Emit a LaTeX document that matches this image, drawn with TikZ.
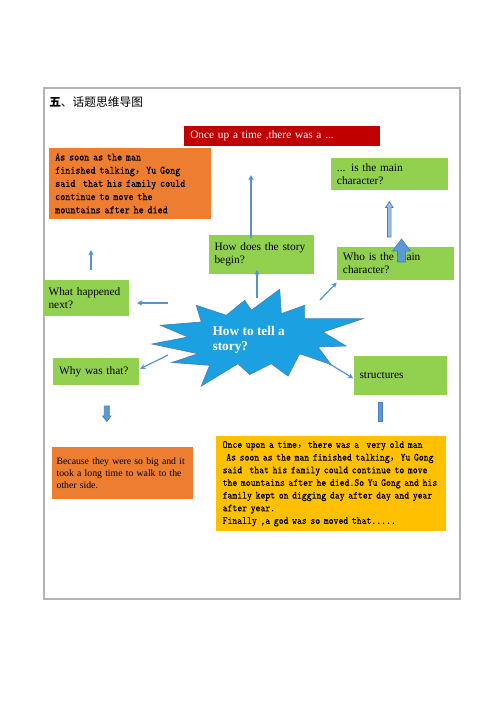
\documentclass[tikz,border=0pt]{standalone}
\usepackage{fontspec}
\setmainfont{Liberation Serif}
\newfontfamily\cjk{Noto Sans CJK SC}
\newfontfamily\monofont{lmmono10-regular.otf}[FakeStretch=0.85, FakeBold=0.2]
\usetikzlibrary{arrows.meta}

\definecolor{mapred}{HTML}{C00000}
\definecolor{maporange}{HTML}{ED7D31}
\definecolor{mapgreen}{HTML}{92D050}
\definecolor{mapyellow}{HTML}{FFC000}
\definecolor{mapblue}{HTML}{5B9BD5}
\definecolor{mapline}{HTML}{4A7EBB}
\definecolor{burstblue}{HTML}{1BA1E2}
\definecolor{framegray}{HTML}{B4B4B4}

\tikzset{
  box/.style={anchor=north west, inner ysep=0pt, align=left, text=black},
  serifbox/.style={box, font=\fontsize{8.5}{10}\selectfont},
  greenbox/.style={serifbox, fill=mapgreen},
  monobox/.style={box, font=\monofont\fontsize{8.5}{9.9}\selectfont},
  arr/.style={draw=mapblue!70!mapline, line width=0.9pt, -{Stealth[length=4pt,width=4pt]}},
  blockarr/.style={fill=mapblue, draw=mapline, line width=0.5pt}
}

\begin{document}
\begin{tikzpicture}[x=0.75pt,y=-0.75pt]
    \useasboundingbox (0,0) rectangle (500,707);
    \draw[framegray, line width=1pt] (44,88) rectangle (460,599);

    \node[anchor=west, inner sep=0pt, font=\cjk\fontsize{8.8}{10}\selectfont] (title) at (49,102) {{\bfseries 五}、话题思维导图};

    % top row
    \node[serifbox, fill=mapred, text=white, inner xsep=4.5pt, text width=138pt, minimum height=14.6pt] (once) at (184,126) {Once up a time ,there was a ...};
    \node[monobox, fill=maporange, inner xsep=5pt, text width=112pt, minimum height=53.8pt] (soon) at (48.3,147.3)
        {As soon as the man\\finished talking{\cjk ，}Yu Gong\\said~~that his family could\\continue to move the\\mountains after he died};
    \node[greenbox, inner xsep=4.5pt, text width=78.5pt, minimum height=24.5pt] (main) at (330.7,157.3) {... is the main\\character?};

    % middle
    \node[greenbox, inner xsep=4.5pt, text width=70pt, minimum height=28.7pt] (begin) at (208.3,235) {How does the story\\begin?};
    \node[greenbox, inner xsep=4.5pt, text width=78.5pt, minimum height=24.5pt] (who) at (336.7,246.7) {Who is the main\\character?};
    \node[greenbox, inner xsep=4.2pt, text width=56pt, minimum height=27.5pt] (next) at (42.7,279.3) {What happened\\next?};
    \node[greenbox, inner xsep=5pt, text width=54.5pt, minimum height=20.8pt] (why) at (52.3,357.3) {Why was that?};
    \node[greenbox, inner xsep=4.5pt, text width=61pt, minimum height=29.2pt] (struct) at (353.3,356) {structures};

    % the star
    \filldraw[fill=burstblue, draw=mapline, line width=0.5pt]
        (196.3,305.3) -- (226.3,315.3) -- (244.7,300.3) -- (251.3,310.3) -- (279.7,289.3) -- (281.3,313.7)
        -- (304.7,305.3) -- (304.7,318.7) -- (363,318.7) -- (323,332) -- (346,346) -- (318,347)
        -- (331,364.5) -- (299.7,353.7) -- (288,376) -- (271.3,363.7) -- (249.7,374.5) -- (238,363.7)
        -- (201.3,386) -- (209.7,365.3) -- (172,362.5) -- (198,353.7) -- (152,344) -- (188,337)
        -- (160.5,325.3) -- (201.3,322) -- cycle;
    \node[anchor=west, inner sep=0pt, align=left, text=white, font=\bfseries\fontsize{10}{11.3}\selectfont] (story) at (212.3,340.2) {How to tell a\\story?};

    % bottom
    \node[serifbox, fill=maporange, inner xsep=3.5pt, text width=99pt, minimum height=39.2pt, font=\fontsize{7.3}{8.9}\selectfont] (because) at (51.7,446.7)
        {Because they were so big and it\\took a long time to walk to the\\other side.};
    \node[monobox, fill=mapyellow, inner xsep=4.8pt, text width=162.9pt, minimum height=71.3pt, font=\monofont\fontsize{8.2}{9.5}\selectfont] (tale) at (216,436)
        {Once upon a time{\cjk ，}there was a~~very old man\\
        ~As soon as the man finished talking{\cjk ，}Yu Gong\\
        said~~that his family could continue to move\\
        the mountains after he died.So Yu Gong and his\\
        family kept on digging day after day and year\\
        after year.\\
        Finally ,a god was so moved that.....};

    % thin arrows
    \coordinate (beginUp) at (251,175);
    \coordinate (nextA) at (91,270);
    \coordinate (nextB) at (91,250);
    \coordinate (leftA) at (168,303);
    \coordinate (leftB) at (137,303);
    \coordinate (topA) at (257,298);
    \coordinate (rightA) at (320,300);
    \coordinate (lowA) at (168,355);
    \coordinate (lowB) at (320,358);
    \draw[arr] ([yshift=-2pt]beginUp |- begin.north) -- (beginUp);
    \draw[arr] (nextA) -- (nextB);
    \draw[arr] (leftA) -- (leftB);
    \draw[arr] (topA) -- ([yshift=3pt]topA |- begin.south);
    \draw[arr] (rightA) -- ([yshift=-2pt]who.south west);
    \draw[arr] (lowA) -- ([shift={(1pt,2pt)}]why.east);
    \draw[arr] (lowB) -- ([yshift=-2pt]struct.west);

    % block arrows
    \filldraw[blockarr, fill=mapblue!65] (389.3,201.7) -- (393.1,207.5) -- (391.1,207.5) -- (391.1,237)
        -- (387.5,237) -- (387.5,207.5) -- (385.5,207.5) -- cycle;
    \filldraw[blockarr] (401.5,239) -- (410.5,251) -- (405.5,251) -- (405.5,262)
        -- (397.5,262) -- (397.5,251) -- (392.5,251) -- cycle;
    \filldraw[blockarr] (104.3,406) -- (109.3,406) -- (109.3,416) -- (111,416)
        -- (106.8,421.5) -- (102.5,416) -- (104.3,416) -- cycle;
    \filldraw[blockarr] (378,402) rectangle (382,421.5);
\end{tikzpicture}
\end{document}
